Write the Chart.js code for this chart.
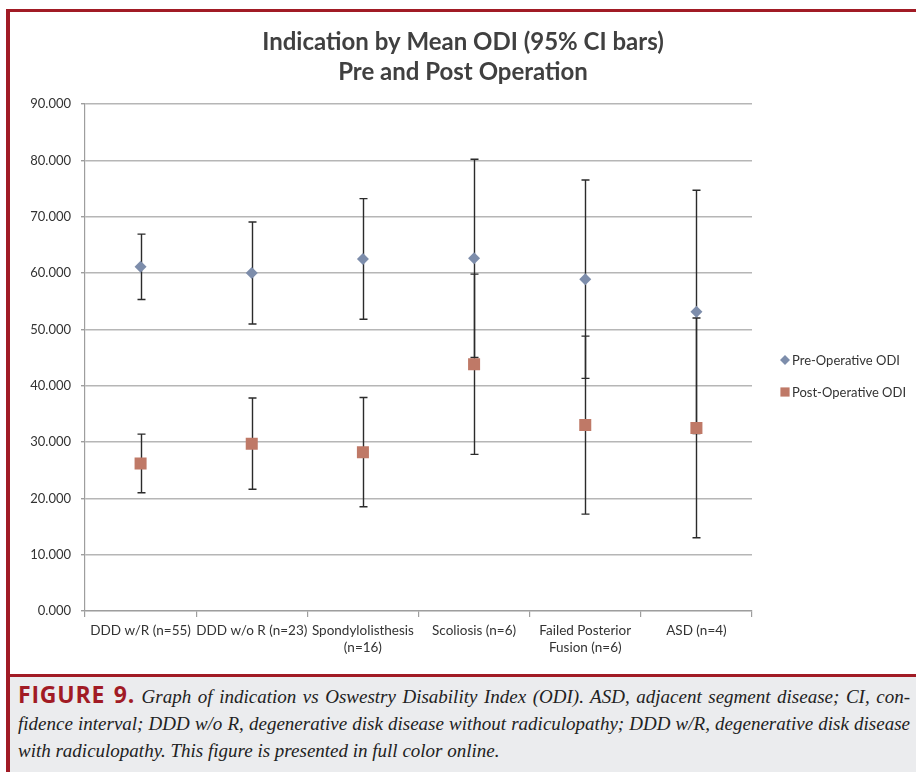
<!DOCTYPE html>
<html>
<head>
<meta charset="utf-8">
<script src="https://cdn.jsdelivr.net/npm/chart.js@4/dist/chart.umd.min.js"></script>
<style>
  html, body { margin: 0; padding: 0; background: #fff; }
  body { width: 916px; height: 772px; position: relative; overflow: hidden; font-family: Lato, "Open Sans", sans-serif; }
  #frame { position: absolute; left: 6px; top: 9px; right: 0; bottom: 0; border-left: 4px solid #a11b25; border-top: 3px solid #a11b25; }
  #chartBox { position: absolute; left: 10px; top: 12px; width: 906px; height: 662px; }
  #caption { position: absolute; left: 10px; top: 674px; right: 0; bottom: 0; background: #ebecee; border-top: 3px solid #a11b25; padding: 4px 6px 0 8px; }
  #caption .ln { display: block; font-family: "Liberation Serif", serif; font-style: italic; font-size: 19px; line-height: 27px; color: #222; text-align: justify; text-align-last: justify; white-space: nowrap; }
  #caption .ln.last { text-align-last: left; }
  #caption b { font-family: "Open Sans", sans-serif; font-style: normal; font-weight: 700; color: #a11b25; font-size: 23px; line-height: 27px; letter-spacing: 0.8px; }
</style>
</head>
<body>
<div id="frame"></div>
<div id="chartBox"><canvas id="c"></canvas></div>
<div id="caption">
  <span class="ln"><b>FIGURE 9.</b> Graph of indication vs Oswestry Disability Index (ODI). ASD, adjacent segment disease; CI, con-</span>
  <span class="ln">fidence interval; DDD w/o R, degenerative disk disease without radiculopathy; DDD w/R, degenerative disk disease</span>
  <span class="ln last">with radiculopathy. This figure is presented in full color online.</span>
</div>
<script>
// Indications (x categories)
const categories = [
  'DDD w/R (n=55)',
  'DDD w/o R (n=23)',
  ['Spondylolisthesis', '(n=16)'],
  'Scoliosis (n=6)',
  ['Failed Posterior', 'Fusion (n=6)'],
  'ASD (n=4)'
];

// Mean ODI and 95% CI half-widths
const preMean  = [61.1, 60.0, 62.5, 62.6, 58.9, 53.1];
const preCI    = [5.8, 9.05, 10.7, 17.6, 17.6, 21.6];
const postMean = [26.2, 29.7, 28.2, 43.8, 33.0, 32.5];
const postCI   = [5.2, 8.1, 9.7, 16.0, 15.8, 19.5];

const yTicks = [0, 10, 20, 30, 40, 50, 60, 70, 80, 90];
const seriesNames = ['Pre-Operative ODI', 'Post-Operative ODI'];

const PRE_COLOR = '#7d8dab';
const POST_COLOR = '#bf7967';
const FONT = 'Lato, "Open Sans", sans-serif';

// Vertical error bars with caps, drawn under the markers
const errorBars = {
  id: 'errorBars',
  beforeDatasetsDraw(chart) {
    const { ctx, scales: { x, y } } = chart;
    ctx.save();
    ctx.strokeStyle = '#2b2b2b';
    ctx.lineWidth = 1.4;
    chart.data.datasets.forEach(ds => {
      ds.data.forEach((v, i) => {
        const h = ds.ci[i];
        const px = Math.round(x.getPixelForValue(i)) + 0.5;
        const top = y.getPixelForValue(v + h);
        const bot = y.getPixelForValue(v - h);
        ctx.beginPath();
        ctx.moveTo(px, top); ctx.lineTo(px, bot);
        ctx.moveTo(px - 4, top); ctx.lineTo(px + 4, top);
        ctx.moveTo(px - 4, bot); ctx.lineTo(px + 4, bot);
        ctx.stroke();
      });
    });
    ctx.restore();
  }
};

// Legend to the right of the plot
const sideLegend = {
  id: 'sideLegend',
  afterDraw(chart) {
    const { ctx, chartArea } = chart;
    const x0 = chartArea.right + 33;
    const rows = [chartArea.top + 256, chartArea.top + 288];
    ctx.save();
    chart.data.datasets.forEach((ds, i) => {
      const opts = {
        pointStyle: ds.pointStyle,
        radius: i === 0 ? 5 : 6.5,
        borderWidth: 0,
        rotation: 0
      };
      ctx.fillStyle = ds.backgroundColor;
      ctx.strokeStyle = ds.backgroundColor;
      Chart.helpers.drawPoint(ctx, opts, x0, rows[i]);
      ctx.fillStyle = '#333';
      ctx.font = '13px ' + FONT;
      ctx.textBaseline = 'middle';
      ctx.textAlign = 'left';
      ctx.fillText(ds.label, x0 + 7, rows[i] + 1);
    });
    ctx.restore();
  }
};

new Chart(document.getElementById('c'), {
  type: 'line',
  data: {
    labels: categories,
    datasets: [
      {
        label: seriesNames[0],
        data: preMean,
        ci: preCI,
        showLine: false,
        pointStyle: 'rectRot',
        pointRadius: 6,
        pointHoverRadius: 6,
        pointBorderWidth: 0,
        backgroundColor: PRE_COLOR,
        borderColor: PRE_COLOR
      },
      {
        label: seriesNames[1],
        data: postMean,
        ci: postCI,
        showLine: false,
        pointStyle: 'rect',
        pointRadius: 8.5,
        pointHoverRadius: 8.5,
        pointBorderWidth: 0,
        backgroundColor: POST_COLOR,
        borderColor: POST_COLOR
      }
    ]
  },
  options: {
    responsive: true,
    maintainAspectRatio: false,
    animation: false,
    events: [],
    layout: { padding: 0 },
    plugins: {
      legend: { display: false },
      tooltip: { enabled: false },
      title: {
        display: true,
        text: ['Indication by Mean ODI (95% CI bars)', 'Pre and Post Operation'],
        color: '#404040',
        font: { family: FONT, size: 24, weight: 'bold', lineHeight: 1.25 },
        padding: { top: 15, bottom: 17 }
      }
    },
    scales: {
      x: {
        type: 'category',
        offset: true,
        grid: { offset: true, drawOnChartArea: false, color: '#9e9e9e', tickLength: 6, lineWidth: 1.2 },
        border: { color: '#9e9e9e', width: 1.2 },
        ticks: { color: '#333', font: { family: FONT, size: 13.5 }, maxRotation: 0, autoSkip: false, padding: 6 },
        afterFit(scale) { scale.height = 63; }
      },
      y: {
        min: 0,
        max: 90,
        afterBuildTicks(scale) { scale.ticks = yTicks.map(v => ({ value: v })); },
        grid: { color: '#b6b6b6', lineWidth: 1.4, tickLength: 4, tickColor: '#9e9e9e' },
        border: { color: '#9e9e9e', width: 1.2 },
        ticks: {
          color: '#333',
          font: { family: FONT, size: 13 },
          padding: 10,
          callback: v => Number(v).toFixed(3)
        },
        afterFit(scale) { scale.width = 75; }
      },
      // blank band on the right that holds the legend
      legendSpace: {
        axis: 'y',
        position: 'right',
        display: true,
        min: 0,
        max: 90,
        grid: { display: false },
        border: { display: false },
        ticks: { display: false },
        afterFit(scale) { scale.width = 164; }
      }
    }
  },
  plugins: [errorBars, sideLegend]
});
</script>
</body>
</html>
